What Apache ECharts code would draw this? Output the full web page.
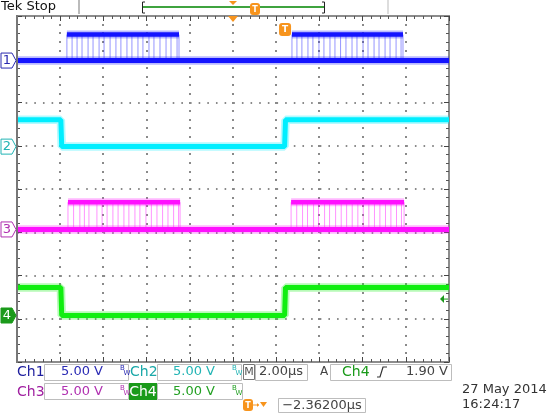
<!DOCTYPE html>
<html><head><meta charset="utf-8">
<script src="https://cdn.jsdelivr.net/npm/echarts@6/dist/echarts.min.js"></script>
<style>html,body{margin:0;padding:0;background:#fff}#c{width:550px;height:413px}</style>
</head><body><div id="c"></div><script>
// Time axis in µs (2 µs/div, 10 div); vertical axis in divisions (5 V/div)
const channelNames = ['1', '2', '3', '4'];
const channelColors = ['#1414ff', '#00eeff', '#ff10ff', '#10ee10'];
const channelOffsets = [2.97, 0.98, -0.935, -2.925];   // ground level (div)
// Ch2 / Ch4: step signals (volts)
const ch2Times = [0, 2.03, 2.07, 12.39, 12.43, 20];
const ch2Volts = [3.1, 3.1, 0, 0, 3.1, 3.1];
const ch4Times = [0, 2.03, 2.07, 12.39, 12.43, 20];
const ch4Volts = [3.25, 3.25, 0, 0, 3.25, 3.25];
// Ch1 / Ch3: data bursts (start, end in µs) and their high level (volts)
const ch1Bursts = [[2.31, 7.5], [12.73, 17.87]];
const ch3Bursts = [[2.36, 7.55], [12.69, 17.92]];
const ch1High = 3.0;
const ch3High = 3.15;
// bit edges seen inside the bursts (µs)
const ch1Edges = [2.31, 2.55, 2.78, 3.01, 3.29, 3.52, 3.80, 4.03, 4.31, 4.58, 4.81, 5.09, 5.32, 5.60, 5.83, 6.11, 6.34, 6.62, 6.90, 7.13, 7.41, 7.50,
  12.73, 12.96, 13.19, 13.47, 13.70, 13.98, 14.21, 14.49, 14.72, 14.98, 15.23, 15.51, 15.74, 16.02, 16.25, 16.53, 16.76, 17.04, 17.27, 17.55, 17.78, 17.87];
const ch3Edges = [2.36, 2.62, 2.91, 3.12, 3.33, 3.70, 3.94, 4.17, 4.44, 4.68, 4.95, 5.18, 5.46, 5.69, 5.97, 6.22, 6.48, 6.74, 6.99, 7.25, 7.48, 7.55,
  12.69, 12.95, 13.22, 13.45, 13.73, 13.96, 14.24, 14.47, 14.75, 15.01, 15.26, 15.52, 15.78, 16.03, 16.29, 16.55, 16.80, 17.06, 17.31, 17.57, 17.80, 17.92];
// vertical graticule lines (µs)
const timeGridlines = [2, 4, 6, 8, 10, 12, 14, 16, 18];
const triggerTime = 12.41;   // µs
const triggerLevel = 1.9;    // volts on Ch4
const xMin = 0, xMax = 20, xInterval = 2;
const yMin = -4, yMax = 4, yInterval = 1;
const dotsPerDiv = 5;

const toDiv = (ch, v) => channelOffsets[ch] + v / 5;

const chart = echarts.init(document.getElementById('c'), null, {renderer: 'canvas'});
const series = [];
// vertical dotted graticule: small square dots every 1/5 division
series.push({type: 'custom', silent: true, animation: false, z: 1, clip: false,
  data: timeGridlines.map(t => [t]),
  renderItem: (params, api) => {
    const children = [];
    const nSteps = (yMax - yMin) * dotsPerDiv;
    for (let k = 1; k < nSteps; k++) {
      const p = api.coord([api.value(0), yMin + k / dotsPerDiv]);
      children.push({type: 'rect', shape: {x: Math.round(p[0]) - 1, y: Math.round(p[1]) - 1, width: 2, height: 2},
        style: {fill: '#8a8a8a'}});
    }
    return {type: 'group', children: children};
  }});
function addTrace(ch, pts, w) {
  series.push({type: 'line', data: pts, symbol: 'none', silent: true, animation: false,
    lineStyle: {color: channelColors[ch], width: (w || 5) + 3.5, opacity: 0.3}, z: 3});
  series.push({type: 'line', data: pts, symbol: 'none', silent: true, animation: false,
    lineStyle: {color: channelColors[ch], width: w || 5, opacity: 1}, z: 4});
}
function addEdges(ch, edges, hi) {
  series.push({type: 'custom', silent: true, animation: false, z: 2,
    data: edges.map(t => [t, toDiv(ch, 0), toDiv(ch, hi)]),
    renderItem: (params, api) => {
      const a = api.coord([api.value(0), api.value(1)]);
      const b = api.coord([api.value(0), api.value(2)]);
      return {type: 'line', shape: {x1: a[0], y1: a[1], x2: b[0], y2: b[1]},
        style: {stroke: channelColors[ch], lineWidth: 1, opacity: 0.45}};
    }});
}
// Ch1
addTrace(0, [[xMin, toDiv(0, 0)], [xMax, toDiv(0, 0)]]);
ch1Bursts.forEach(b => addTrace(0, [[b[0], toDiv(0, ch1High)], [b[1], toDiv(0, ch1High)]], 4.5));
addEdges(0, ch1Edges, ch1High);
// Ch2
addTrace(1, ch2Times.map((t, i) => [t, toDiv(1, ch2Volts[i])]));
// Ch3
addTrace(2, [[xMin, toDiv(2, 0)], [xMax, toDiv(2, 0)]]);
ch3Bursts.forEach(b => addTrace(2, [[b[0], toDiv(2, ch3High)], [b[1], toDiv(2, ch3High)]], 4.5));
addEdges(2, ch3Edges, ch3High);
// Ch4
addTrace(3, ch4Times.map((t, i) => [t, toDiv(3, ch4Volts[i])]));

const dotted = {color: '#8a8a8a', width: 2, type: [1.6, 7.05]};
const tick = {show: true, inside: true, length: 5, lineStyle: {color: '#444', width: 1}};
const minor = {show: true, splitNumber: 5, length: 3, lineStyle: {color: '#555', width: 1}};
function xAx(pos) {
  return {type: 'value', min: xMin, max: xMax, interval: xInterval, position: pos,
    axisLine: {show: false, onZero: false}, axisTick: tick, minorTick: minor, axisLabel: {show: false},
    splitLine: {show: false}};
}
function yAx(pos, split) {
  return {type: 'value', min: yMin, max: yMax, interval: yInterval, position: pos,
    axisLine: {show: false, onZero: false}, axisTick: tick, minorTick: minor, axisLabel: {show: false},
    splitLine: {show: split, lineStyle: dotted}};
}

chart.setOption({
  animation: false,
  backgroundColor: '#fff',
  grid: {left: 17, top: 16, width: 432, height: 346, show: true, borderColor: '#8c8c8c', borderWidth: 2, backgroundColor: 'transparent'},
  xAxis: [xAx('bottom'), xAx('top')],
  yAxis: [yAx('left', true), yAx('right', false)],
  series: series
});

// ---- decorations (markers, header, status bar) ----
const F = '"DejaVu Sans", sans-serif';
const g = [];
function txt(x, y, s, color, size, align, weight) {
  g.push({type: 'text', x: x, y: y, z: 100, style: {text: s, fill: color, font: (weight || 'normal') + ' ' + (size || 13) + 'px ' + F,
    textAlign: align || 'left', textVerticalAlign: 'middle'}});
}
function box(x, y, w, h, stroke, fill) {
  g.push({type: 'rect', z: 90, shape: {x: x, y: y, width: w, height: h}, style: {stroke: stroke || '#bdbdbd', fill: fill || 'none', lineWidth: 1}});
}
function bw(x, y, color) {
  txt(x, y - 3, 'B', color, 7); txt(x + 3.5, y + 2, 'W', color, 7);
}
function tPill(x, y, w, h) {
  g.push({type: 'rect', z: 100, shape: {x: x, y: y, width: w, height: h, r: 3}, style: {fill: '#f7941d'}});
  g.push({type: 'text', z: 101, x: x + w / 2, y: y + h / 2 + 0.5, style: {text: 'T', fill: '#fff', font: 'bold ' + (h - 4) + 'px ' + F, textAlign: 'center', textVerticalAlign: 'middle'}});
}
// left border emphasis
g.push({type: 'line', z: 95, shape: {x1: 17, y1: 15, x2: 17, y2: 363}, style: {stroke: '#777', lineWidth: 2}});
// channel ground markers
channelNames.forEach((n, i) => {
  const p = chart.convertToPixel({xAxisIndex: 0, yAxisIndex: 0}, [xMin, channelOffsets[i]]);
  const y = p[1];
  const filled = i === 3;
  const col = i === 3 ? '#1a9a1a' : (i === 1 ? '#22b4b4' : (i === 2 ? '#b030b0' : '#2a2ab0'));
  g.push({type: 'polygon', z: 100, shape: {points: [[1, y - 7.5], [12, y - 7.5], [16, y], [12, y + 7.5], [1, y + 7.5]]},
    style: {fill: filled ? col : '#fff', stroke: col, lineWidth: 1}});
  txt(7, y + 0.5, n, filled ? '#fff' : col, 13, 'center');
});
// trigger marker and position marker
const tp = chart.convertToPixel({xAxisIndex: 0, yAxisIndex: 0}, [triggerTime, yMax]);
tPill(tp[0] - 6, 23, 12, 13);
const cp = chart.convertToPixel({xAxisIndex: 0, yAxisIndex: 0}, [(xMin + xMax) / 2, yMax]);
g.push({type: 'polygon', z: 100, shape: {points: [[cp[0] - 5, 16], [cp[0] + 5, 16], [cp[0], 22]]}, style: {fill: '#f7941d'}});
// trigger level arrow
const lp = chart.convertToPixel({xAxisIndex: 0, yAxisIndex: 0}, [xMax, toDiv(3, triggerLevel)]);
g.push({type: 'polygon', z: 100, shape: {points: [[lp[0] - 9, lp[1]], [lp[0] - 5, lp[1] - 4], [lp[0] - 5, lp[1] + 4]]}, style: {fill: '#1a9a1a'}});
g.push({type: 'line', z: 100, shape: {x1: lp[0] - 6, y1: lp[1], x2: lp[0] - 1, y2: lp[1]}, style: {stroke: '#1a9a1a', lineWidth: 1}});

// header
txt(1, 7, 'Tek Stop', '#111', 13);
g.push({type: 'line', shape: {x1: 79, y1: 0, x2: 79, y2: 14}, style: {stroke: '#bbb', lineWidth: 2}});
g.push({type: 'line', shape: {x1: 388, y1: 0, x2: 388, y2: 14}, style: {stroke: '#ddd', lineWidth: 2}});
g.push({type: 'line', shape: {x1: 143, y1: 7, x2: 325, y2: 7}, style: {stroke: '#3fa33f', lineWidth: 2}});
g.push({type: 'polyline', shape: {points: [[145, 2], [142.5, 2], [142.5, 13], [145, 13]]}, style: {stroke: '#222', lineWidth: 1, fill: 'none'}});
g.push({type: 'polyline', shape: {points: [[322, 2], [324.5, 2], [324.5, 13], [322, 13]]}, style: {stroke: '#222', lineWidth: 1, fill: 'none'}});
g.push({type: 'polygon', shape: {points: [[229, 1], [237, 1], [233, 5]]}, style: {fill: '#f7941d'}});
tPill(250, 3, 10, 12);

// status bar row 1
txt(17, 372, 'Ch1', '#1e1e9e', 14);
box(44.5, 364.5, 84, 16);
txt(82, 372, '5.00 V', '#2a2ab4', 13, 'center');
bw(120, 371, '#2a2ab4');
txt(130, 372, 'Ch2', '#1aa8a8', 14);
box(157.5, 364.5, 84, 16);
txt(194, 372, '5.00 V', '#22b4b4', 13, 'center');
bw(232, 371, '#22b4b4');
box(243.5, 364.5, 11, 15, '#777');
txt(249, 372, 'M', '#555', 11, 'center');
box(255.5, 364.5, 52, 16);
txt(281, 372, '2.00µs', '#444', 13, 'center');
txt(324, 372, 'A', '#444', 12, 'center');
box(330.5, 364.5, 121, 16);
txt(342, 372, 'Ch4', '#1a9a1a', 14);
g.push({type: 'polyline', shape: {points: [[377, 377], [380, 377], [383, 367], [387, 367]]}, style: {stroke: '#333', lineWidth: 1.2, fill: 'none'}});
txt(448, 372, '1.90 V', '#444', 13, 'right');
// row 2
txt(17, 392, 'Ch3', '#a020a0', 14);
box(44.5, 383.5, 84, 16);
txt(82, 392, '5.00 V', '#b030b0', 13, 'center');
bw(120, 391, '#b030b0');
g.push({type: 'rect', shape: {x: 129, y: 383, width: 28, height: 17}, style: {fill: '#1a9a1a'}});
txt(143, 392, 'Ch4', '#fff', 14, 'center');
box(157.5, 383.5, 85, 16);
txt(194, 392, '5.00 V', '#22a022', 13, 'center');
bw(232, 391, '#22a022');
// row 3
tPill(243, 399, 10, 12);
g.push({type: 'line', shape: {x1: 253, y1: 405, x2: 259, y2: 405}, style: {stroke: '#f7941d', lineWidth: 1}});
g.push({type: 'polygon', shape: {points: [[257, 403], [259, 405], [257, 407]]}, style: {fill: '#f7941d'}});
g.push({type: 'polygon', shape: {points: [[260, 402], [267, 402], [263.5, 407]]}, style: {fill: '#f7941d'}});
box(278.5, 398.5, 87, 14);
txt(322, 405.5, '−2.36200µs', '#444', 13, 'center');
// date/time
txt(462, 390, '27 May 2014', '#333', 13);
txt(462, 405, '16:24:17', '#333', 13);

chart.setOption({graphic: g});
</script></body></html>
